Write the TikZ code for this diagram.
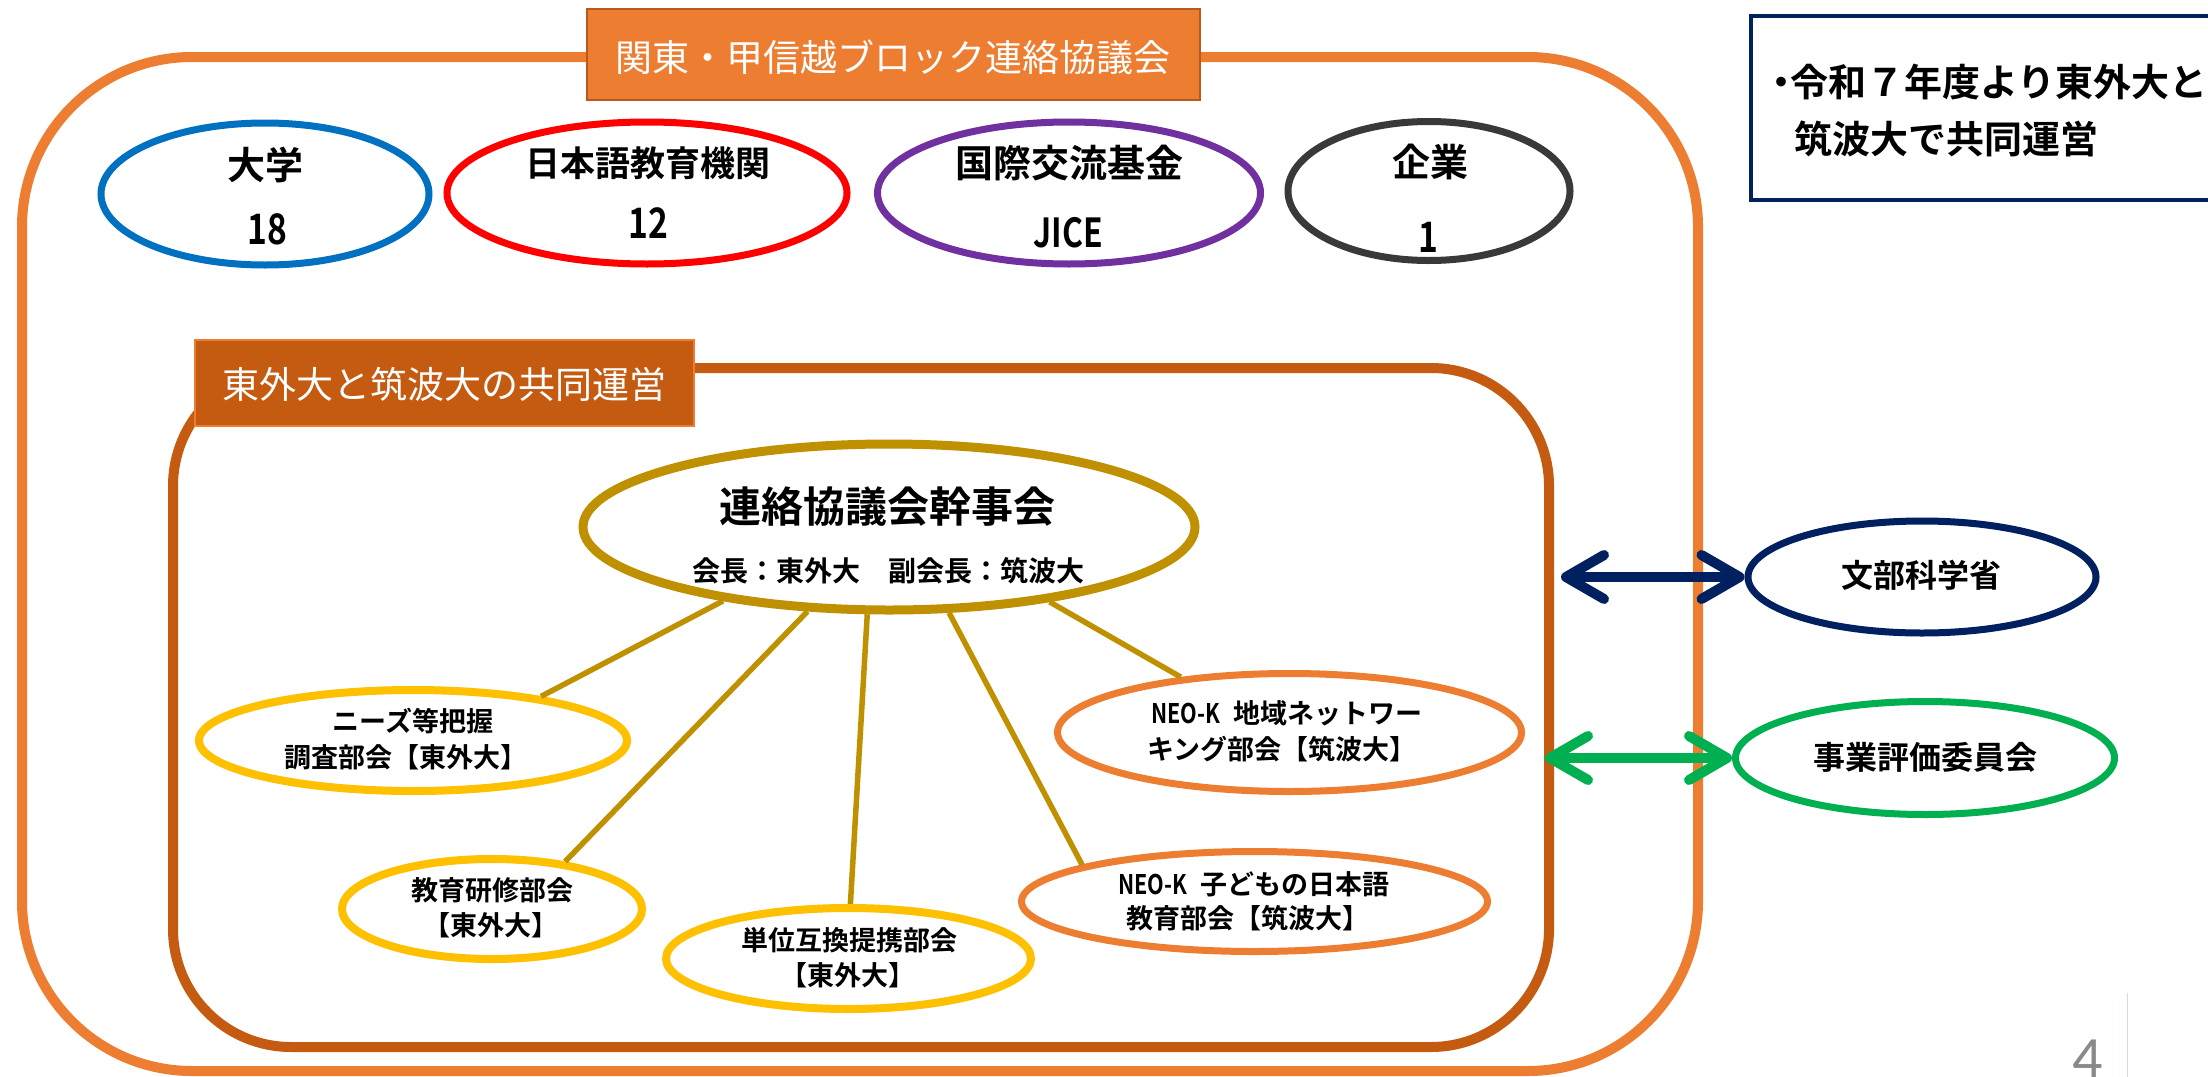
\documentclass[tikz,border=0pt]{standalone}
\usepackage{fontspec}
\setmainfont{Noto Sans CJK JP}[BoldFont={Noto Sans CJK JP Bold}]
\newfontfamily\pgnumfont{Carlito}
\usetikzlibrary{shapes.geometric,arrows.meta}
\definecolor{corange}{HTML}{ED7D31}
\definecolor{cdkorange}{HTML}{C55A11}
\definecolor{ctitleb}{HTML}{B8581F}
\definecolor{cblue}{HTML}{0070C0}
\definecolor{cred}{HTML}{FF0000}
\definecolor{cpurple}{HTML}{7030A0}
\definecolor{cgray}{HTML}{3B3838}
\definecolor{cgold}{HTML}{BF9000}
\definecolor{cyellow}{HTML}{FFC000}
\definecolor{cnavy}{HTML}{002060}
\definecolor{cgreen}{HTML}{00B050}
\definecolor{cpnum}{HTML}{898989}
\definecolor{cthin}{HTML}{EBD3DD}
\newcommand\narrowtxt[1]{\scalebox{0.8}[1]{#1}}
\begin{document}
\begin{tikzpicture}[x=1pt,y=-1pt,
  frame/.style={draw, rectangle, line width=10pt, inner sep=0pt},
  ell/.style={draw, ellipse, fill=white, inner sep=0pt},
  lbl/.style={inner sep=0pt, font=\fontsize{#1}{#1}\selectfont\bfseries},
  wlbl/.style={inner sep=0pt, text=white, font=\fontsize{#1}{#1}\selectfont},
  conn/.style={draw=cgold, line width=5.5pt},
  dblarrow/.style={line width=10pt,
     {Straight Barb[length=38pt,width=44pt,round]}-{Straight Barb[length=38pt,width=44pt,round]}}
]
\useasboundingbox[fill=white] (0,0) rectangle (2208,1076);

% outer frame and its title
\node[frame, draw=corange, rounded corners=170pt, minimum width=1676pt, minimum height=1014pt] (outer) at (860,564) {};
\node[draw=ctitleb, line width=2pt, fill=corange, minimum width=613pt, minimum height=91pt, inner sep=0pt] (title1box) at (893.5,54.5) {};
\node[wlbl=37pt] (title1) at (893,57) {関東・甲信越ブロック連絡協議会};

% member ellipses
\node[ell, draw=cblue, line width=7pt, minimum width=328pt, minimum height=142pt] (univ) at (265,194) {};
\node[lbl=38pt] (univT) at (265,165) {大学};
\node[lbl=42pt] (univN) at (267,229) {\narrowtxt{18}};

\node[ell, draw=cred, line width=7pt, minimum width=400pt, minimum height=142pt] (jle) at (647,193) {};
\node[lbl=35pt] (jleT) at (648,163) {日本語教育機関};
\node[lbl=42pt] (jleN) at (648,223) {\narrowtxt{12}};

\node[ell, draw=cpurple, line width=7pt, minimum width=383pt, minimum height=142pt] (jf) at (1069,193) {};
\node[lbl=38pt] (jfT) at (1069,163) {国際交流基金};
\node[lbl=40pt] (jfN) at (1068,233) {\narrowtxt{JICE}};

\node[ell, draw=cgray, line width=7pt, minimum width=282pt, minimum height=139pt] (corp) at (1429,191) {};
\node[lbl=38pt] (corpT) at (1430,162) {企業};
\node[lbl=42pt] (corpN) at (1428,237) {\narrowtxt{1}};

% inner frame and its title
\node[frame, draw=cdkorange, rounded corners=118pt, minimum width=1376pt, minimum height=679pt] (inner) at (861,707.5) {};
\node[draw=corange, line width=1.5pt, fill=cdkorange, minimum width=499pt, minimum height=86pt, inner sep=0pt] (title2box) at (444.5,383) {};
\node[wlbl=37pt] (title2) at (444,384) {東外大と筑波大の共同運営};

% central committee
\node[ell, draw=cgold, line width=9pt, minimum width=612pt, minimum height=166pt] (gold) at (889,527) {};
\node[lbl=42pt] (goldT) at (887,507) {連絡協議会幹事会};
\node[lbl=28pt] (goldS) at (888,571) {会長：東外大　副会長：筑波大};

% sub committees
\node[ell, draw=cyellow, line width=8pt, minimum width=428pt, minimum height=101pt] (nz) at (413,740.5) {};
\node[lbl=27pt] (nzA) at (413,721) {ニーズ等把握};
\node[lbl=27pt] (nzB) at (406,757) {調査部会【東外大】};

\node[ell, draw=cyellow, line width=8pt, minimum width=300pt, minimum height=100pt] (ky) at (492,909) {};
\node[lbl=27pt] (kyA) at (492,890) {教育研修部会};
\node[lbl=27pt] (kyB) at (491,925) {【東外大】};

\node[ell, draw=cyellow, line width=8pt, minimum width=365pt, minimum height=101pt] (tn) at (848.5,958.5) {};
\node[lbl=27pt] (tnA) at (849,940) {単位互換提携部会};
\node[lbl=27pt] (tnB) at (848,975) {【東外大】};

\node[ell, draw=corange, line width=7pt, minimum width=464pt, minimum height=118pt] (nc) at (1289.5,732.5) {};
\node[lbl=27pt] (ncA) at (1287,713) {\narrowtxt{NEO-K}\hspace{14pt}地域ネットワー};
\node[lbl=27pt] (ncB) at (1282,749) {キング部会【筑波大】};

\node[ell, draw=corange, line width=7pt, minimum width=466pt, minimum height=100pt] (nk) at (1254.5,901.5) {};
\node[lbl=27pt] (nkA) at (1254,884) {\narrowtxt{NEO-K}\hspace{14pt}子どもの日本語};
\node[lbl=27pt] (nkB) at (1248,918) {教育部会【筑波大】};

% connectors
\draw[conn] (gold.-156.8) -- (nz.19.4);
\draw[conn] (gold.-134.3) -- (ky.33.7);
\draw[conn] (gold.-104.3) -- (tn.88);
\draw[conn] (gold.-55.6) -- (nk.168.4);
\draw[conn] (gold.-25.4) -- (nc.153.5);

% note box
\node[draw=cnavy, line width=4.5pt, minimum width=470pt, minimum height=184pt, inner sep=0pt] (note) at (1986,108) {};
\node[lbl=38pt, anchor=west] (noteA) at (1772,82) {\makebox[18pt][c]{・}令和７年度より東外大と};
\node[lbl=38pt, anchor=west] (noteB) at (1794,139) {筑波大で共同運営};

% external bodies
\node[ell, draw=cnavy, line width=7pt, minimum width=348pt, minimum height=112pt] (mext) at (1922,577) {};
\node[lbl=32pt] (mextT) at (1921,575) {文部科学省};
\node[ell, draw=cgreen, line width=7pt, minimum width=379pt, minimum height=113pt] (eval) at (1925,758) {};
\node[lbl=32pt] (evalT) at (1925,757) {事業評価委員会};

\coordinate (mextL) at (1561,577);
\coordinate (evalL) at (1545,758);
\draw[dblarrow, draw=cnavy] (mextL) -- (mext.west);
\draw[dblarrow, draw=cgreen] (evalL) -- (eval.west);

% page number
\coordinate (ruletop) at (2127,993);
\coordinate (rulebot) at (2127,1080);
\draw[cthin, line width=1pt] (ruletop) -- (rulebot);
\node[inner sep=0pt, anchor=base, text=cpnum, font=\pgnumfont\fontsize{60pt}{60pt}\selectfont] (pnum) at (2088,1078) {4};
\end{tikzpicture}
\end{document}
